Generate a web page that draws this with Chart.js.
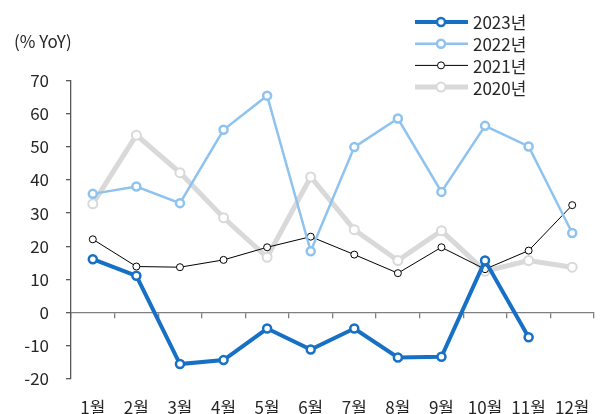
<!DOCTYPE html>
<html>
<head>
<meta charset="utf-8">
<script src="https://cdn.jsdelivr.net/npm/chart.js@4"></script>
<style>
    html, body { margin: 0; padding: 0; background: #fff; }
    #wrap { width: 603px; height: 414px; }
</style>
</head>
<body>
<div id="wrap"><canvas id="yoy_chart" width="603" height="414"></canvas></div>
<script>
    // 월별 데이터 (% YoY)
    var months = ['1월', '2월', '3월', '4월', '5월', '6월', '7월', '8월', '9월', '10월', '11월', '12월'];
    var y2023 = [16.1, 11.1, -15.5, -14.3, -4.8, -11.1, -4.8, -13.5, -13.3, 15.7, -7.4, null];
    var y2022 = [35.8, 38.0, 33.0, 55.1, 65.4, 18.5, 49.9, 58.5, 36.4, 56.3, 50.1, 24.0];
    var y2021 = [22.1, 13.9, 13.7, 15.9, 19.7, 22.9, 17.5, 11.9, 19.7, 13.1, 18.7, 32.4];
    var y2020 = [32.8, 53.5, 42.2, 28.6, 16.7, 40.9, 25.0, 15.7, 24.7, 12.5, 15.7, 13.7];
    var yTicks = [-20, -10, 0, 10, 20, 30, 40, 50, 60, 70];

    var FONT = "'Noto Sans CJK KR', 'Noto Sans', sans-serif";
    var TEXT = '#262626';

    function makeSet(label, data, color, width, radius, pw) {
        return {
            label: label,
            data: data,
            xAxisID: 'x',
            borderColor: color,
            borderWidth: width,
            pointRadius: radius,
            pointBorderWidth: pw,
            pointBackgroundColor: '#fff',
            pointBorderColor: color,
            tension: 0,
            spanGaps: false
        };
    }

    // 범례 (선 + 원 마커)
    var lineLegend = {
        id: 'lineLegend',
        afterDraw: function (chart) {
            var ctx = chart.ctx;
            ctx.save();
            ctx.font = '17px ' + FONT;
            ctx.textBaseline = 'middle';
            chart.data.datasets.forEach(function (ds, i) {
                var y = 22 + i * 21.7;
                ctx.strokeStyle = ds.borderColor;
                ctx.lineWidth = ds.borderWidth;
                ctx.beginPath();
                ctx.moveTo(415, y);
                ctx.lineTo(468, y);
                ctx.stroke();
                ctx.beginPath();
                ctx.arc(441, y, ds.pointRadius, 0, Math.PI * 2);
                ctx.fillStyle = '#fff';
                ctx.fill();
                ctx.lineWidth = ds.pointBorderWidth;
                ctx.stroke();
                ctx.fillStyle = TEXT;
                ctx.fillText(ds.label, 473, y + 1);
            });
            ctx.restore();
        }
    };

    new Chart(document.getElementById('yoy_chart').getContext('2d'), {
        type: 'line',
        data: {
            labels: months,
            datasets: [
                makeSet('2023년', y2023, '#1670C6', 4, 4, 2.5),
                makeSet('2022년', y2022, '#8EC3F0', 2.5, 4, 2.5),
                makeSet('2021년', y2021, '#000000', 1, 3.5, 1),
                makeSet('2020년', y2020, '#D9D9D9', 5, 4.5, 2)
            ]
        },
        options: {
            responsive: false,
            animation: false,
            layout: {padding: {left: 14, right: 9, top: 0, bottom: 0}},
            plugins: {
                legend: {display: false},
                tooltip: {enabled: false},
                title: {
                    display: true,
                    text: '(% YoY)',
                    align: 'start',
                    color: TEXT,
                    font: {family: FONT, size: 17, weight: 'normal'},
                    padding: {top: 31, bottom: 29}
                }
            },
            scales: {
                x: {
                    type: 'category',
                    position: 'bottom',
                    offset: true,
                    grid: {display: false},
                    border: {display: false},
                    ticks: {color: TEXT, font: {family: FONT, size: 17}, padding: 10, maxRotation: 0, autoSkip: false},
                    afterFit: function (s) { s.height = 35; }
                },
                x0: {
                    type: 'category',
                    axis: 'x',
                    position: {y: 0},
                    offset: true,
                    grid: {display: true, drawOnChartArea: false, offset: true, tickLength: 5, color: '#7F7F7F', lineWidth: 1.3},
                    border: {display: true, color: '#7F7F7F', width: 1.3},
                    ticks: {display: false}
                },
                y: {
                    min: -20,
                    max: 70,
                    afterBuildTicks: function (s) {
                        s.ticks = yTicks.map(function (v) { return {value: v}; });
                    },
                    grid: {display: true, drawOnChartArea: false, tickLength: 5, color: '#595959', lineWidth: 1.3},
                    border: {display: true, color: '#595959', width: 1.3},
                    ticks: {color: TEXT, font: {family: FONT, size: 17}, padding: 17},
                    afterFit: function (s) { s.width = 57; }
                }
            }
        },
        plugins: [lineLegend]
    });
</script>
</body>
</html>
